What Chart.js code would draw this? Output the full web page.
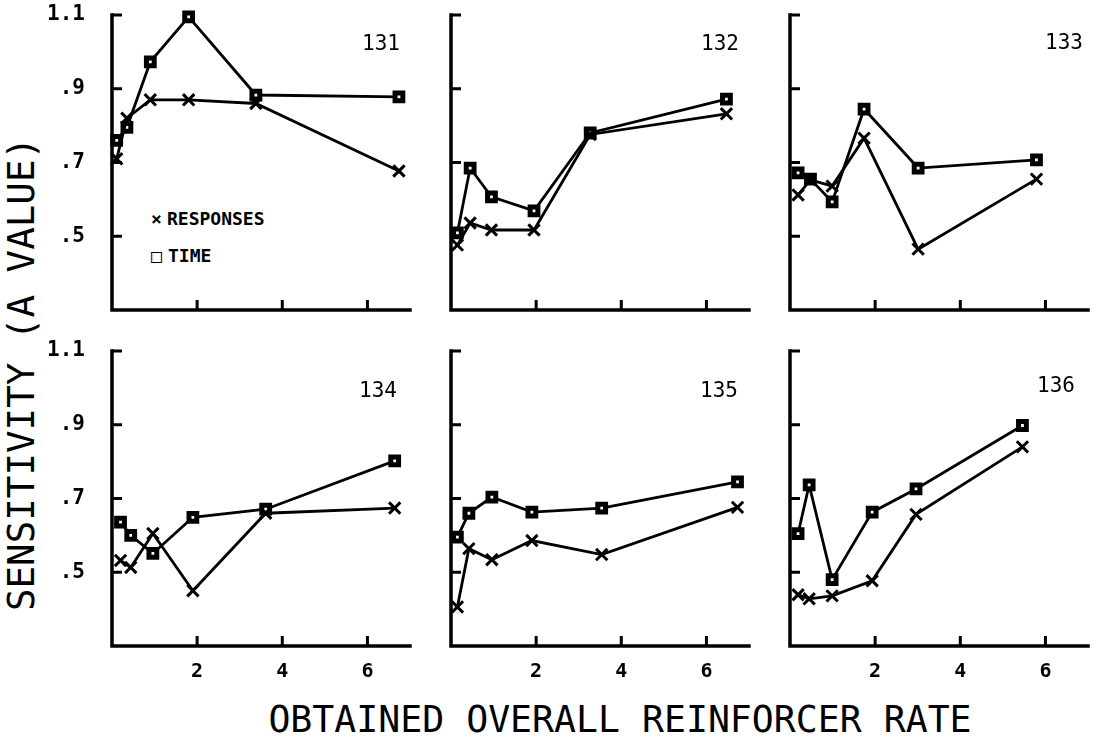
<!DOCTYPE html>
<html>
<head>
<meta charset="utf-8">
<title>Sensitivity by reinforcer rate</title>
<script src="https://cdn.jsdelivr.net/npm/chart.js@4.4.1/dist/chart.umd.min.js"></script>
<style>
  body { margin: 0; width: 1101px; height: 742px; position: relative; overflow: hidden; background: #fff; color: #000; font-family: 'DejaVu Sans Mono', monospace; }
  canvas { position: absolute; }
  .txt { position: absolute; white-space: nowrap; line-height: 1; }
  .bird { font-size: 21px; transform: translate(-100%, -50%); }
  .leg { font-size: 18px; font-weight: bold; transform: translateY(-50%); }
</style>
</head>
<body>

<div class="txt" style="left:22px; top:374px; font-size:37.5px; transform:translate(-50%,-50%) rotate(-90deg);">SENSITIVITY (A VALUE)</div>
<div class="txt" style="left:620px; top:720px; font-size:36.5px; transform:translate(-50%,-50%);">OBTAINED OVERALL REINFORCER RATE</div>

<div class="txt leg" style="left:151px; top:219px;">×</div>
<div class="txt leg" style="left:167px; top:219px;">RESPONSES</div>
<div class="txt leg" style="left:151px; top:256px;">□</div>
<div class="txt leg" style="left:168px; top:256px;">TIME</div>

<script>
// birds, one panel each
const birds = ['131', '132', '133', '134', '135', '136'];

// obtained overall reinforcer rate for each condition (x)
const rate131 = [0.11, 0.35, 0.90, 1.80, 3.38, 6.74];
const rate132 = [0.15, 0.45, 0.95, 1.95, 3.27, 6.47];
const rate133 = [0.19, 0.48, 0.99, 1.74, 3.01, 5.79];
const rate134 = [0.20, 0.44, 0.96, 1.90, 3.61, 6.64];
const rate135 = [0.15, 0.42, 0.96, 1.90, 3.54, 6.73];
const rate136 = [0.19, 0.45, 0.99, 1.93, 2.96, 5.46];

// sensitivity (a value) from responses
const resp131 = [0.710, 0.820, 0.870, 0.870, 0.860, 0.677];
const resp132 = [0.476, 0.536, 0.517, 0.517, 0.776, 0.832];
const resp133 = [0.612, 0.653, 0.636, 0.766, 0.465, 0.655];
const resp134 = [0.532, 0.513, 0.605, 0.450, 0.660, 0.674];
const resp135 = [0.406, 0.564, 0.534, 0.586, 0.548, 0.676];
const resp136 = [0.439, 0.428, 0.436, 0.477, 0.657, 0.840];

// sensitivity (a value) from time allocation
const time131 = [0.760, 0.795, 0.973, 1.095, 0.883, 0.878];
const time132 = [0.509, 0.685, 0.607, 0.569, 0.780, 0.872];
const time133 = [0.672, 0.655, 0.593, 0.845, 0.685, 0.707];
const time134 = [0.636, 0.600, 0.551, 0.649, 0.671, 0.802];
const time135 = [0.595, 0.660, 0.704, 0.663, 0.674, 0.745];
const time136 = [0.605, 0.737, 0.480, 0.663, 0.726, 0.898];

const xTickValues = [2, 4, 6];
const yTickValues = [0.5, 0.7, 0.9, 1.1];
const yTickLabels = ['.5', '.7', '.9', '1.1'];

// panel layout (chart area in page pixels)
const AREA_W = 298, AREA_H = 295;
const YW = 100, XH = 45, PT = 14, PR = 14;
const colLeft = [112, 451, 790];
const rowTop = [15, 351];

const panels = [
  { rate: rate131, resp: resp131, time: time131 },
  { rate: rate132, resp: resp132, time: time132 },
  { rate: rate133, resp: resp133, time: time133 },
  { rate: rate134, resp: resp134, time: time134 },
  { rate: rate135, resp: resp135, time: time135 },
  { rate: rate136, resp: resp136, time: time136 }
];
// where the bird number sits (right edge, middle)
const birdPos = [[400, 43], [739, 43], [1083, 42], [397, 390], [738, 390], [1075, 385]];

// axes with the tick marks pointing into the plot
const inwardAxes = {
  id: 'inwardAxes',
  beforeDatasetsDraw(chart) {
    const { ctx, chartArea: a, scales: { x, y } } = chart;
    ctx.save();
    ctx.strokeStyle = '#000';
    ctx.lineWidth = 3.5;
    ctx.lineCap = 'square';
    ctx.beginPath();
    ctx.moveTo(a.left, a.top);
    ctx.lineTo(a.left, a.bottom);
    ctx.lineTo(a.right, a.bottom);
    ctx.stroke();
    ctx.lineWidth = 3;
    ctx.lineCap = 'butt';
    ctx.beginPath();
    y.ticks.forEach(t => {
      const py = y.getPixelForValue(t.value);
      ctx.moveTo(a.left, py);
      ctx.lineTo(a.left + 10, py);
    });
    x.ticks.forEach(t => {
      const px = x.getPixelForValue(t.value);
      ctx.moveTo(px, a.bottom);
      ctx.lineTo(px, a.bottom - 10);
    });
    ctx.stroke();
    ctx.restore();
  }
};

// keep tick-label padding from shrinking the plot area
function noPad(s) {
  s.paddingTop = 0; s.paddingBottom = 0; s.paddingLeft = 0; s.paddingRight = 0;
}

Chart.defaults.font.family = "'DejaVu Sans Mono', monospace";
Chart.defaults.color = '#000';

panels.forEach((p, i) => {
  const col = i % 3, row = Math.floor(i / 3);
  const showY = col === 0, showX = row === 1;

  const canvas = document.createElement('canvas');
  canvas.width = YW + AREA_W + PR;
  canvas.height = PT + AREA_H + XH;
  canvas.style.left = (colLeft[col] - YW) + 'px';
  canvas.style.top = (rowTop[row] - PT) + 'px';
  document.body.appendChild(canvas);

  const lbl = document.createElement('div');
  lbl.className = 'txt bird';
  lbl.textContent = birds[i];
  lbl.style.left = birdPos[i][0] + 'px';
  lbl.style.top = birdPos[i][1] + 'px';
  document.body.appendChild(lbl);

  new Chart(canvas.getContext('2d'), {
    type: 'line',
    data: {
      datasets: [
        {
          label: 'RESPONSES',
          data: p.rate.map((v, k) => ({ x: v, y: p.resp[k] })),
          borderColor: '#000',
          backgroundColor: '#000',
          borderWidth: 2.8,
          pointStyle: 'crossRot',
          pointRadius: 8,
          pointBorderWidth: 3,
          pointBorderColor: '#000',
          tension: 0,
          clip: false
        },
        {
          label: 'TIME',
          data: p.rate.map((v, k) => ({ x: v, y: p.time[k] })),
          borderColor: '#000',
          backgroundColor: '#fff',
          borderWidth: 2.8,
          pointStyle: 'rect',
          pointRadius: 5.5,
          pointBorderWidth: 5,
          pointBorderColor: '#000',
          pointBackgroundColor: '#fff',
          tension: 0,
          clip: false
        }
      ]
    },
    options: {
      responsive: false,
      animation: false,
      events: [],
      layout: { padding: { top: PT, right: PR, left: 0, bottom: 0 } },
      plugins: { legend: { display: false }, tooltip: { enabled: false } },
      scales: {
        x: {
          type: 'linear',
          min: 0,
          max: 7,
          grid: { display: false, drawTicks: false },
          border: { display: false },
          afterBuildTicks: s => { s.ticks = xTickValues.map(v => ({ value: v })); },
          afterFit: s => { s.height = XH; noPad(s); },
          ticks: { display: showX, padding: 14, maxRotation: 0, autoSkip: false, font: { size: 20, weight: 'bold' } }
        },
        y: {
          type: 'linear',
          min: 0.3,
          max: 1.1,
          grid: { display: false, drawTicks: false },
          border: { display: false },
          afterBuildTicks: s => { s.ticks = yTickValues.map(v => ({ value: v })); },
          afterFit: s => { s.width = YW; noPad(s); },
          ticks: {
            display: showY,
            padding: 27,
            autoSkip: false,
            font: { size: 21, weight: 'bold' },
            callback: v => yTickLabels[yTickValues.indexOf(v)]
          }
        }
      }
    },
    plugins: [inwardAxes]
  });
});
</script>
</body>
</html>
